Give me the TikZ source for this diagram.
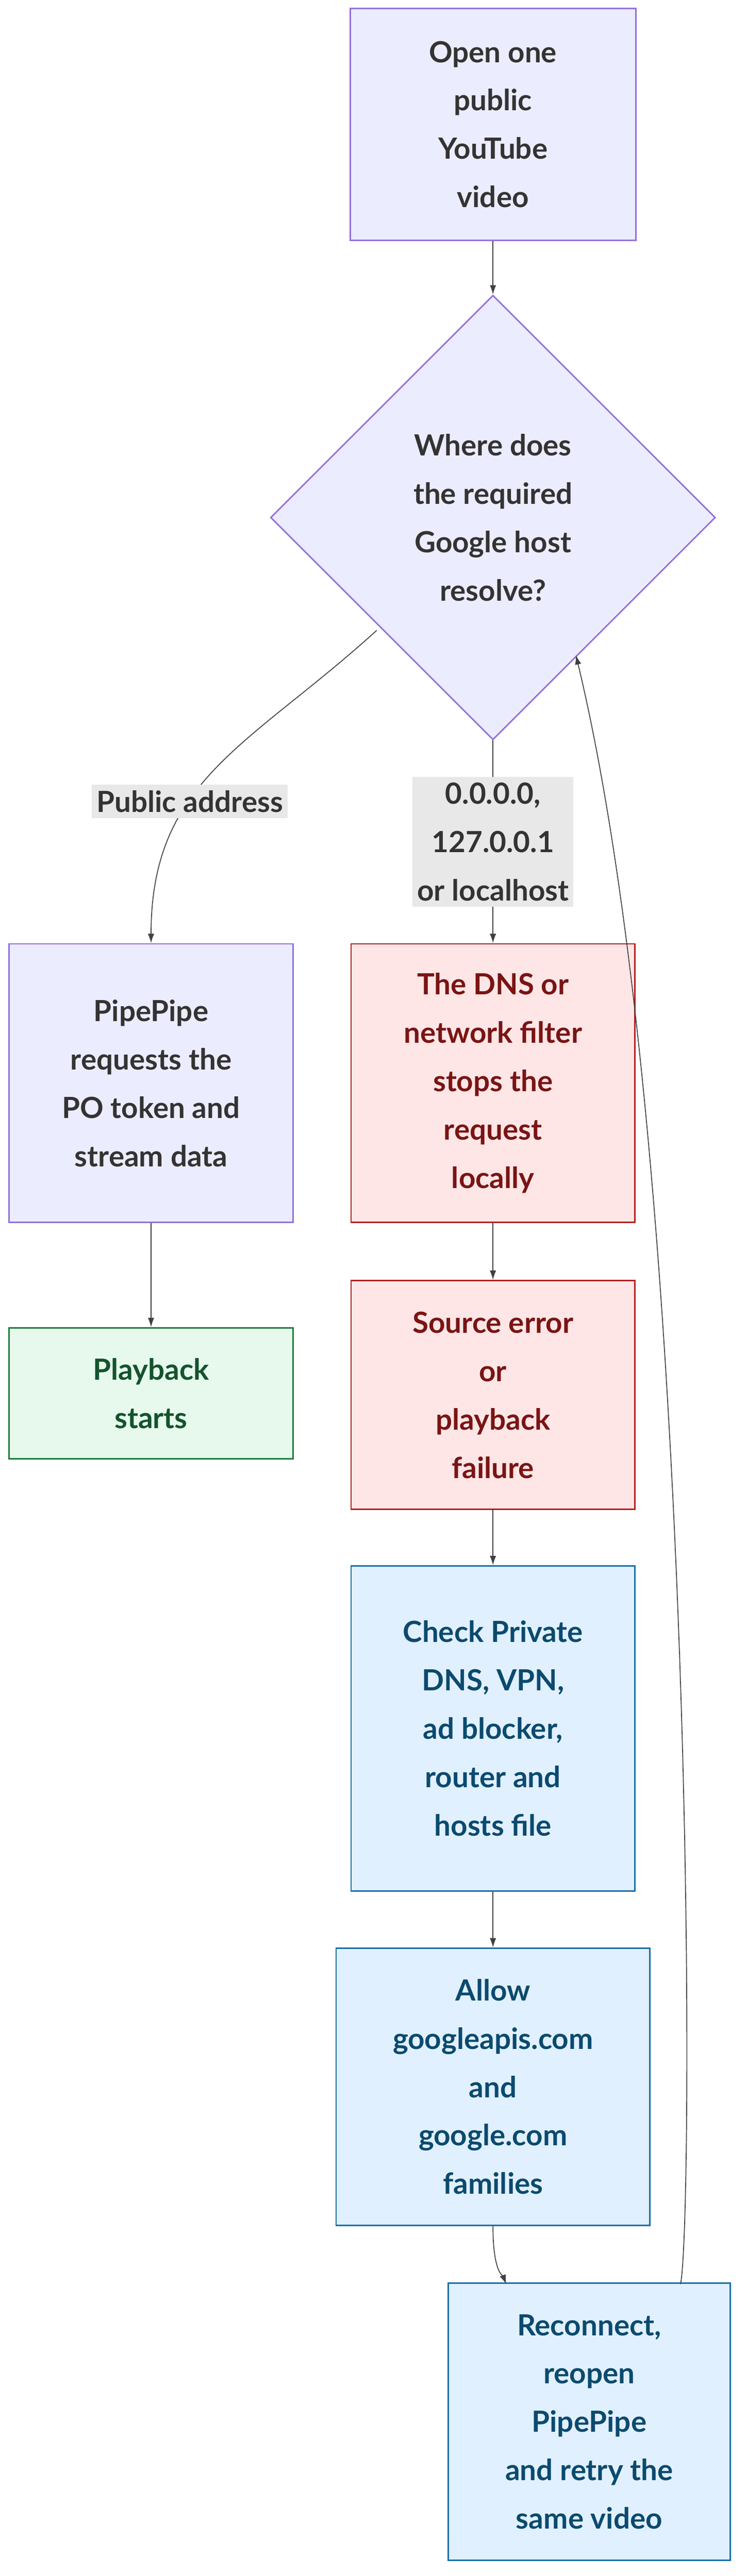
\documentclass[tikz,border=0pt]{standalone}
\usepackage{fontspec}
\setmainfont{Lato}
\usetikzlibrary{shapes.geometric,arrows.meta}
\definecolor{purpfill}{HTML}{ECECFF}
\definecolor{purpline}{HTML}{9370DB}
\definecolor{redfill}{HTML}{FFE6E6}
\definecolor{redline}{HTML}{B22222}
\definecolor{redtext}{HTML}{7A1414}
\definecolor{grnfill}{HTML}{E6F9EC}
\definecolor{grnline}{HTML}{1E7F3E}
\definecolor{grntext}{HTML}{14532D}
\definecolor{bluefill}{HTML}{E1F0FF}
\definecolor{blueline}{HTML}{1B6FA8}
\definecolor{bluetext}{HTML}{0B4A6F}
\tikzstyle{txt}=[font=\fontsize{50}{83}\selectfont\bfseries, align=center, inner sep=0pt]
\tikzstyle{ask}=[txt, draw=purpline, fill=purpfill, text=black!80, line width=2.5pt]
\tikzstyle{fail}=[txt, draw=redline, fill=redfill, text=redtext, line width=2.5pt]
\tikzstyle{good}=[txt, draw=grnline, fill=grnfill, text=grntext, line width=2.5pt]
\tikzstyle{fix}=[txt, draw=blueline, fill=bluefill, text=bluetext, line width=2.5pt]
\tikzstyle{lbl}=[txt, fill=black!9, text=black!80, inner xsep=8pt, inner ysep=10pt]
\tikzstyle{flow}=[draw=black!75, line width=1.5pt, -{Latex[length=16pt,width=11pt]}]

\begin{document}
\begin{tikzpicture}[x=0.1cm, y=-0.1cm]
    \useasboundingbox (0,0) rectangle (450,1553);
    \node[ask, minimum width=172*0.1cm, minimum height=140*0.1cm] (open) at (297,75) {Open one\\public\\YouTube\\video};
    \node[ask, diamond, minimum width=268*0.1cm, minimum height=268*0.1cm, aspect=1] (where) at (297,312) {Where does\\the required\\Google host\\resolve?};
    \node[ask, minimum width=171*0.1cm, minimum height=168*0.1cm] (pipe) at (91,653) {PipePipe\\requests the\\PO token and\\stream data};
    \node[fail, minimum width=171*0.1cm, minimum height=168*0.1cm] (dns) at (297,653) {The DNS or\\network filter\\stops the\\request\\locally};
    \node[good, minimum width=171*0.1cm, minimum height=79*0.1cm] (play) at (91,840) {Playback\\starts};
    \node[fail, minimum width=171*0.1cm, minimum height=138*0.1cm] (src) at (297,841) {Source error\\or\\playback\\failure};
    \node[fix, minimum width=171*0.1cm, minimum height=196*0.1cm] (check) at (297,1042) {Check Private\\DNS, VPN,\\ad blocker,\\router and\\hosts file};
    \node[fix, minimum width=189*0.1cm, minimum height=167*0.1cm] (allow) at (297,1258) {Allow\\googleapis.com\\and\\google.com\\families};
    \node[fix, minimum width=170*0.1cm, minimum height=167*0.1cm] (retry) at (355,1460) {Reconnect,\\reopen\\PipePipe\\and retry the\\same video};
    \coordinate (left) at (227,380);
    \coordinate (back) at (347,395);
    \coordinate (up) at (410,1377);
    \coordinate (in) at (305,1377);
    \draw[flow] (open) -- (where);
    \draw[flow] (left) .. controls (150,450) and (91,470) .. node[lbl, pos=0.62] {Public address} (pipe.north);
    \draw[flow] (where.south) -- node[lbl] {0.0.0.0,\\127.0.0.1\\or localhost} (dns);
    \draw[flow] (pipe) -- (play);
    \draw[flow] (dns) -- (src);
    \draw[flow] (src) -- (check);
    \draw[flow] (check) -- (allow);
    \draw[flow] (allow.south) .. controls (297,1370) and (303,1372) .. (in);
    \draw[flow] (up) .. controls (418,1340) and (420,700) .. (back);
\end{tikzpicture}
\end{document}
